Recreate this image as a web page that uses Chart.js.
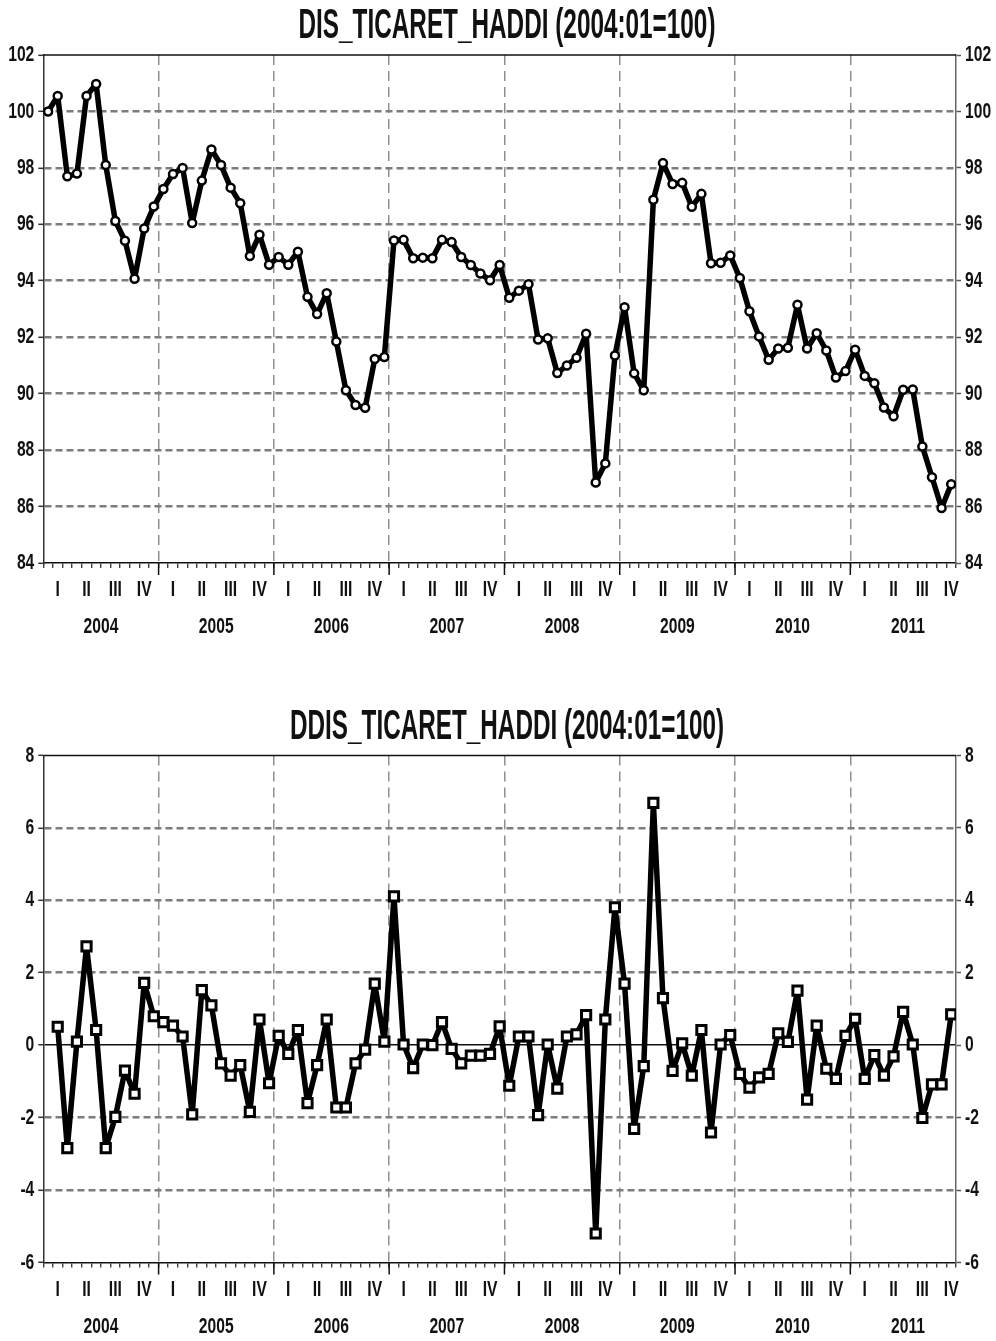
<!DOCTYPE html>
<html>
<head>
<meta charset="utf-8">
<script src="https://cdn.jsdelivr.net/npm/chart.js@4.4.1/dist/chart.umd.min.js"></script>
<style>
  html, body { margin: 0; padding: 0; background: #ffffff; }
  #wrap { position: relative; width: 996px; height: 1341px; overflow: hidden; }
  canvas { position: absolute; left: 0; display: block; }
  #c1 { top: 0; }
  #c2 { top: 700px; }
</style>
</head>
<body>
<div id="wrap">
  <canvas id="c1" width="996" height="700"></canvas>
  <canvas id="c2" width="996" height="641"></canvas>
</div>
<script>
// ---------------- DATA ----------------
const years = ['2004', '2005', '2006', '2007', '2008', '2009', '2010', '2011'];
const quarterLabels = ['I', 'II', 'III', 'IV'];

const titleLevel = 'DIS_TICARET_HADDI (2004:01=100)';
const titleDiff  = 'DDIS_TICARET_HADDI (2004:01=100)';

// DIS_TICARET_HADDI, monthly 2004:01 - 2011:11
const level2004 = [100.0, 100.55, 97.7, 97.8, 100.55, 100.97, 98.1, 96.12, 95.42, 94.07, 95.85, 96.63];
const level2005 = [97.25, 97.78, 98.0, 96.05, 97.55, 98.65, 98.1, 97.3, 96.75, 94.88, 95.63, 94.57];
const level2006 = [94.84, 94.57, 95.03, 93.43, 92.82, 93.56, 91.85, 90.12, 89.6, 89.5, 91.23, 91.3];
const level2007 = [95.43, 95.45, 94.8, 94.82, 94.8, 95.45, 95.37, 94.84, 94.56, 94.26, 94.02, 94.56];
const level2008 = [93.4, 93.65, 93.88, 91.92, 91.96, 90.73, 91.0, 91.27, 92.12, 86.85, 87.53, 91.35];
const level2009 = [93.06, 90.72, 90.12, 96.87, 98.17, 97.43, 97.47, 96.62, 97.08, 94.62, 94.64, 94.9];
const level2010 = [94.1, 92.92, 92.03, 91.2, 91.6, 91.63, 93.15, 91.6, 92.14, 91.53, 90.57, 90.8];
const level2011 = [91.56, 90.63, 90.37, 89.51, 89.2, 90.14, 90.15, 88.13, 87.04, 85.95, 86.79];

// DDIS_TICARET_HADDI, monthly 2004:02 - 2011:11
const diff2004 = [0.51, -2.84, 0.1, 2.73, 0.42, -2.84, -1.98, -0.7, -1.34, 1.72, 0.8];
const diff2005 = [0.64, 0.54, 0.24, -1.91, 1.52, 1.1, -0.5, -0.84, -0.55, -1.84, 0.71, -1.05];
const diff2006 = [0.26, -0.24, 0.42, -1.6, -0.55, 0.71, -1.72, -1.72, -0.5, -0.12, 1.7, 0.1];
const diff2007 = [4.11, 0.02, -0.63, 0.02, 0.0, 0.64, -0.1, -0.5, -0.29, -0.29, -0.24, 0.52];
const diff2008 = [-1.12, 0.24, 0.24, -1.93, 0.02, -1.2, 0.24, 0.3, 0.83, -5.2, 0.71, 3.81];
const diff2009 = [1.7, -2.31, -0.58, 6.69, 1.3, -0.71, 0.05, -0.84, 0.42, -2.41, 0.02, 0.28];
const diff2010 = [-0.79, -1.17, -0.89, -0.79, 0.33, 0.09, 1.51, -1.5, 0.54, -0.65, -0.93, 0.26];
const diff2011 = [0.73, -0.93, -0.27, -0.84, -0.31, 0.92, 0.02, -2.01, -1.08, -1.08, 0.85];

const levelTicks = [84, 86, 88, 90, 92, 94, 96, 98, 100, 102];
const diffTicks  = [-6, -4, -2, 0, 2, 4, 6, 8];

// ---------------- BUILD ----------------
const levelValues = [].concat(level2004, level2005, level2006, level2007, level2008, level2009, level2010, level2011);
const diffValues  = [].concat(diff2004, diff2005, diff2006, diff2007, diff2008, diff2009, diff2010, diff2011);
const nMonths = levelValues.length;            // 95 months, 2004:01 .. 2011:11
const levelPoints = levelValues.map((v, i) => ({ x: i, y: v }));
const diffPoints  = diffValues.map((v, i) => ({ x: i + 1, y: v }));   // first difference starts at 2004:02

const FONT = '"Liberation Sans Narrow", "Arial Narrow", "Nimbus Sans Narrow", "Liberation Sans", Arial, sans-serif';

function drawCondensed(ctx, text, x, y, sx, align, baseline) {
  ctx.save();
  ctx.translate(x, y);
  ctx.scale(sx, 1);
  ctx.textAlign = align;
  ctx.textBaseline = baseline;
  ctx.fillText(text, 0, 0);
  ctx.restore();
}

const decorPlugin = {
  id: 'decor',
  afterDraw(chart, args, opts) {
    const { ctx, chartArea: a } = chart;
    const xs = chart.scales.x;
    const ys = chart.scales.y;
    ctx.save();
    // top frame line
    ctx.strokeStyle = '#111';
    ctx.lineWidth = 1.5;
    ctx.beginPath();
    ctx.moveTo(a.left, a.top);
    ctx.lineTo(a.right, a.top);
    ctx.stroke();
    // long year ticks below the axis
    for (let k = 1; k < years.length; k++) {
      const px = xs.getPixelForValue(12 * k - 0.5);
      ctx.beginPath();
      ctx.moveTo(px, a.bottom);
      ctx.lineTo(px, a.bottom + 12);
      ctx.stroke();
    }
    // labels
    ctx.fillStyle = '#111';
    ctx.font = 'bold 22px ' + FONT;
    const sx = 8.7 / ctx.measureText('0').width;
    // y tick labels, left and right
    opts.ticks.forEach((v) => {
      const py = ys.getPixelForValue(v);
      drawCondensed(ctx, String(v), a.left - 9, py, sx, 'right', 'middle');
      drawCondensed(ctx, String(v), a.right + 9, py, sx, 'left', 'middle');
    });
    // quarter and year labels
    years.forEach((yr, k) => {
      quarterLabels.forEach((q, j) => {
        const v = 12 * k + 3 * j + 1;
        if (v > nMonths - 1) return;
        drawCondensed(ctx, q, xs.getPixelForValue(v), a.bottom + 27, sx, 'center', 'middle');
      });
      drawCondensed(ctx, yr, xs.getPixelForValue(12 * k + 5.5), a.bottom + 64, sx, 'center', 'middle');
    });
    // title
    ctx.font = 'bold 42px ' + FONT;
    const tw = ctx.measureText(opts.text).width;
    drawCondensed(ctx, opts.text, opts.cx, a.top - 17, opts.width / tw, 'center', 'alphabetic');
    ctx.restore();
  }
};

function makeChart(canvasId, points, tickVals, title, titleWidth, padTop, xHeight, pointStyle, pointRadius, pointBorderWidth) {
  const yMin = tickVals[0], yMax = tickVals[tickVals.length - 1];
  const gridColor = (c) => {
    if (!c.tick) return '#808080';
    if (c.tick.value === yMin || c.tick.value === yMax) return 'rgba(0,0,0,0)';
    if (c.tick.value === 0) return '#111';
    return '#7d7d7d';
  };
  const gridWidth = (c) => (c.tick && c.tick.value === 0 ? 1.5 : 2.6);
  const yTicksBuild = (s) => { s.ticks = tickVals.map(v => ({ value: v })); };
  return new Chart(document.getElementById(canvasId), {
    type: 'line',
    data: {
      datasets: [{
        data: points,
        borderColor: '#000',
        borderWidth: 5.5,
        borderJoinStyle: 'round',
        tension: 0,
        pointStyle: pointStyle,
        pointRadius: pointRadius,
        pointBorderWidth: pointBorderWidth,
        pointBackgroundColor: '#ffffff',
        pointBorderColor: '#000',
        fill: false
      }]
    },
    options: {
      responsive: false,
      animation: false,
      events: [],
      layout: { padding: { top: padTop, left: 0, right: 0, bottom: 0 } },
      plugins: {
        legend: { display: false },
        title: { display: false },
        tooltip: { enabled: false },
        decor: { text: title, cx: 507, width: titleWidth, ticks: tickVals }
      },
      scales: {
        x: {
          type: 'linear',
          min: -0.5,
          max: nMonths - 0.5,
          afterBuildTicks: (s) => {
            const t = [];
            for (let m = 0; m <= nMonths; m++) t.push({ value: m - 0.5 });
            s.ticks = t;
          },
          afterFit: (s) => { s.height = xHeight; },
          ticks: { display: false },
          grid: {
            color: (c) => {
              if (!c.tick) return 'rgba(0,0,0,0)';
              const v = c.tick.value + 0.5;
              return (v > 0 && v < nMonths && v % 12 === 0) ? '#8f8f8f' : 'rgba(0,0,0,0)';
            },
            lineWidth: 1.5,
            drawTicks: true,
            tickLength: 5,
            tickColor: '#222',
            tickWidth: 1.2,
            tickBorderDash: []
          },
          border: { display: true, color: '#111', width: 1.5, dash: [10, 6] }
        },
        y: {
          type: 'linear',
          position: 'left',
          min: yMin,
          max: yMax,
          afterBuildTicks: yTicksBuild,
          afterFit: (s) => { s.width = 43.3; },
          ticks: { display: false },
          grid: {
            color: gridColor,
            lineWidth: gridWidth,
            drawTicks: true,
            tickLength: 5,
            tickColor: '#333',
            tickWidth: 1.5,
            tickBorderDash: []
          },
          border: {
            display: true, color: '#333', width: 1.5,
            dash: (c) => (c.tick && c.tick.value === 0 ? [] : [7, 4])
          }
        },
        y2: {
          type: 'linear',
          position: 'right',
          min: yMin,
          max: yMax,
          afterBuildTicks: yTicksBuild,
          afterFit: (s) => { s.width = 40; },
          ticks: { display: false },
          grid: {
            drawOnChartArea: false,
            drawTicks: true,
            tickLength: 5,
            tickColor: '#555',
            tickWidth: 1.5,
            tickBorderDash: []
          },
          border: { display: true, color: '#666', width: 1.5 }
        }
      }
    },
    plugins: [decorPlugin]
  });
}

makeChart('c1', levelPoints, levelTicks, titleLevel, 417, 55, 137, 'circle', 4, 2.5);
makeChart('c2', diffPoints, diffTicks, titleDiff, 434, 55.5, 78.5, 'rect', 6.5, 3);
</script>
</body>
</html>
